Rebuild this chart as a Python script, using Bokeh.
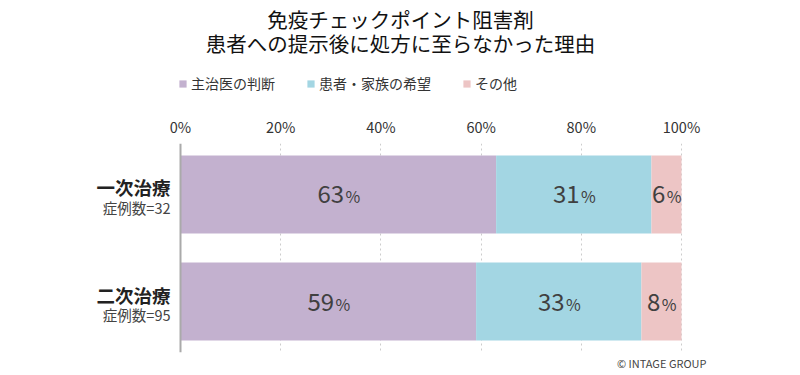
from bokeh.plotting import figure
from bokeh.layouts import column
from bokeh.models import ColumnDataSource, Range1d, FixedTicker, Label, Legend, LegendItem, Span, Title
from bokeh.core.properties import value
from bokeh.embed import file_html
from bokeh.resources import INLINE

# ---- data ----
title_lines = ["免疫チェックポイント阻害剤", "患者への提示後に処方に至らなかった理由"]
categories = ["一次治療", "二次治療"]
case_counts = ["症例数=32", "症例数=95"]
series_names = ["主治医の判断", "患者・家族の希望", "その他"]
doctor = [63, 59]
family = [31, 33]
other = [6, 8]
tick_values = [0, 20, 40, 60, 80, 100]
tick_labels = ["0%", "20%", "40%", "60%", "80%", "100%"]
colors = ["#C3B1CF", "#A3D6E3", "#EDC5C5"]
copyright_text = "© INTAGE GROUP"

FONT = "Noto Sans CJK JP"
rows = [i + 1 for i in range(len(categories))]
stack_keys = ["doctor", "family", "other"]

W, H = 800, 375
HT = 110  # height of header figure
PX0, PX100 = 180, 681
ppu = (PX100 - PX0) / 100.0
x_start = -PX0 / ppu
x_end = 100 + (W - PX100) / ppu

src = ColumnDataSource(dict(y=rows, doctor=doctor, family=family, other=other))

# ---------------- header figure (title + legend) ----------------
pt = figure(width=W, height=HT, output_backend="svg", toolbar_location=None,
            x_range=Range1d(0, W), y_range=Range1d(HT, 0),
            min_border_left=0, min_border_right=0, min_border_top=0, min_border_bottom=0)
pt.outline_line_color = None
pt.axis.visible = False
pt.grid.visible = False

for k, t in enumerate(title_lines):
    pt.add_layout(Label(x=W / 2, y=18.5 + 23.5 * k, text=t, text_align="center",
                        text_baseline="middle", text_font=FONT, text_font_size="20.5px",
                        text_color="#111111"))

# hidden copies of the series, used only to feed the legend swatches
ghosts = pt.hbar_stack(stack_keys, y="y", height=0.73, color=colors, line_color=None,
                       source=src, visible=False)
legend = Legend(items=[LegendItem(label=n, renderers=[r]) for n, r in zip(series_names, ghosts)],
                orientation="horizontal", location=(178, HT - 93),
                glyph_width=9, glyph_height=9, label_standoff=4, spacing=31,
                padding=0, margin=0, border_line_color=None, background_fill_alpha=0,
                inactive_fill_alpha=0,
                label_text_font=FONT, label_text_font_size="14px", label_text_color="#333333")
pt.add_layout(legend)

# ---------------- chart figure ----------------
p = figure(width=W, height=H - HT, output_backend="svg", toolbar_location=None,
           x_range=Range1d(x_start, x_end), y_range=Range1d(2.4766, 0.5234),
           x_axis_location="above", min_border_left=0, min_border_right=0,
           min_border_top=143 - HT, min_border_bottom=23)
p.outline_line_color = None
p.background_fill_color = "white"
p.yaxis.visible = False

rs = p.hbar_stack(stack_keys, y="y", height=0.729, color=colors,
                  line_color=None, source=src)

xa = p.xaxis[0]
xa.ticker = FixedTicker(ticks=tick_values)
xa.major_label_overrides = {v: l for v, l in zip(tick_values, tick_labels)}
xa.axis_line_color = None
xa.major_tick_line_color = None
xa.minor_tick_line_color = None
xa.major_label_text_font = FONT
xa.major_label_text_font_size = "14.5px"
xa.major_label_text_color = "#333333"
xa.major_label_standoff = 1

p.xgrid.ticker = FixedTicker(ticks=tick_values[1:])
p.xgrid.grid_line_color = "#CCCCCC"
p.xgrid.grid_line_dash = "2 3"
p.ygrid.grid_line_color = None

p.add_layout(Span(location=0, dimension="height", line_color="#AAAAAA", line_width=2))

# value labels
cx, cy, nums, noff, poff = [], [], [], [], []
for i, r in enumerate(rows):
    left = 0
    for vals in (doctor, family, other):
        v = vals[i]
        c = left + v / 2
        left += v
        s = str(v)
        wn = 13.8 * len(s)
        cx.append(c)
        cy.append(r)
        nums.append(s)
        noff.append((wn - 16) / 2)
        poff.append((wn - 16) / 2 + 1.5)
lsrc = ColumnDataSource(dict(x=cx, y=cy, num=nums, noff=noff, poff=poff,
                             pct=["%"] * len(nums)))
p.text(x="x", y="y", text="num", x_offset="noff", source=lsrc, text_align="right",
       text_baseline="middle", text_font=value(FONT), text_font_size="24px",
       text_color="#404040")
p.text(x="x", y="y", text="pct", x_offset="poff", y_offset=2, source=lsrc,
       text_align="left", text_baseline="middle", text_font=value(FONT),
       text_font_size="16px", text_color="#404040")

for r, cat, n in zip(rows, categories, case_counts):
    p.add_layout(Label(x=-2.0, y=r, text=cat, text_align="right", text_baseline="middle",
                       y_offset=7, text_font=FONT, text_font_size="18.5px",
                       text_font_style="bold", text_color="#222222"))
    p.add_layout(Label(x=-2.0, y=r, text=n, text_align="right", text_baseline="middle",
                       y_offset=-13, text_font=FONT, text_font_size="14.5px",
                       text_color="#444444"))

p.add_layout(Title(text=copyright_text, align="right", offset=94, standoff=0,
                   vertical_align="bottom", text_font=FONT,
                   text_font_size="11px", text_font_style="normal",
                   text_color="#444444"), "below")

layout = column(pt, p, spacing=0)
open("out.html", "w").write(file_html(layout, INLINE))
